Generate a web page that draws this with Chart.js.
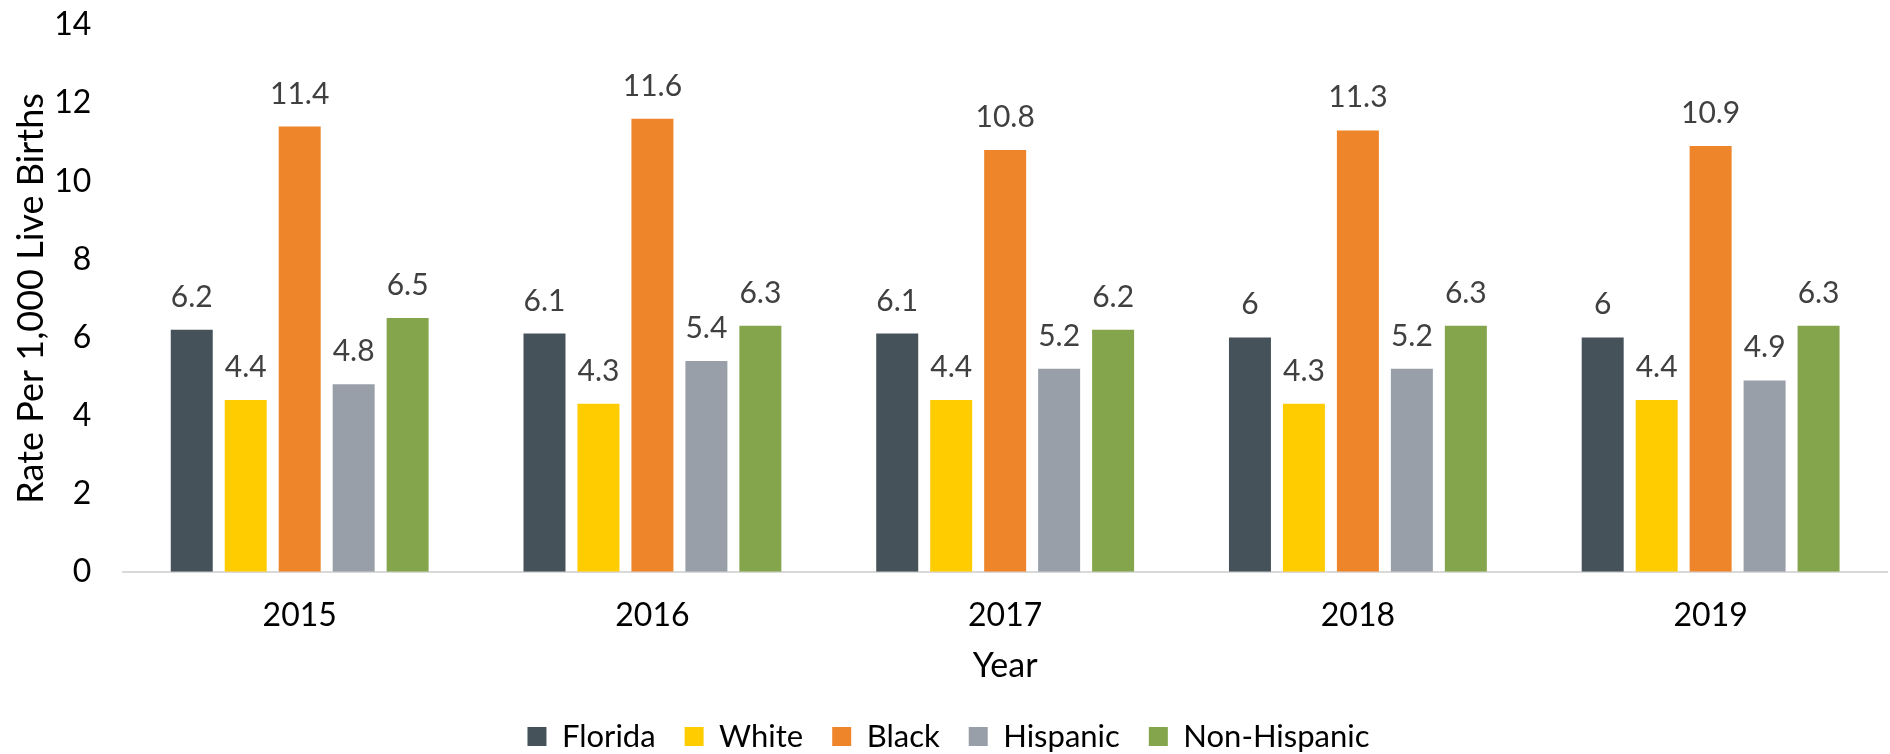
<!DOCTYPE html>
<html>
<head>
<meta charset="utf-8">
<script src="https://cdn.jsdelivr.net/npm/chart.js@4/dist/chart.umd.min.js"></script>
<style>
  html, body { margin: 0; padding: 0; background: #ffffff; }
  #wrap { width: 1890px; height: 754px; }
</style>
</head>
<body>
<div id="wrap"><canvas id="c" width="1890" height="754"></canvas></div>
<script>
// Infant mortality rate per 1,000 live births, by year and group
const years = ['2015', '2016', '2017', '2018', '2019'];
const florida = [6.2, 6.1, 6.1, 6, 6];
const white = [4.4, 4.3, 4.4, 4.3, 4.4];
const black = [11.4, 11.6, 10.8, 11.3, 10.9];
const hispanic = [4.8, 5.4, 5.2, 5.2, 4.9];
const nonHispanic = [6.5, 6.3, 6.2, 6.3, 6.3];
const seriesNames = ['Florida', 'White', 'Black', 'Hispanic', 'Non-Hispanic'];
const seriesColors = ['#465259', '#FFCC00', '#EE852A', '#989FA8', '#85A54D'];
const yTicks = [0, 2, 4, 6, 8, 10, 12, 14];

const FONT = 'Lato, "Open Sans", sans-serif';

// Writes each bar's value just above it
const valueLabels = {
  id: 'valueLabels',
  afterDatasetsDraw(chart) {
    const ctx = chart.ctx;
    ctx.save();
    ctx.font = '30px ' + FONT;
    ctx.fillStyle = '#404040';
    ctx.textAlign = 'center';
    ctx.textBaseline = 'alphabetic';
    chart.data.datasets.forEach((ds, i) => {
      const meta = chart.getDatasetMeta(i);
      meta.data.forEach((bar, j) => {
        ctx.fillText(String(ds.data[j]), bar.x, bar.y - 23);
      });
    });
    ctx.restore();
  }
};

const values = [florida, white, black, hispanic, nonHispanic];
const datasets = seriesNames.map((name, i) => ({
  label: name,
  data: values[i],
  backgroundColor: seriesColors[i],
  borderWidth: 0,
  categoryPercentage: 0.765,
  barPercentage: 0.778
}));

new Chart(document.getElementById('c'), {
  type: 'bar',
  data: { labels: years, datasets },
  plugins: [valueLabels],
  options: {
    responsive: false,
    animation: false,
    devicePixelRatio: 1,
    layout: { padding: { top: 25, right: 3, bottom: -8, left: 10 } },
    plugins: {
      tooltip: { enabled: false },
      legend: {
        position: 'bottom',
        labels: {
          font: { family: FONT, size: 31 },
          color: '#000000',
          boxWidth: 19,
          boxHeight: 19,
          padding: 29
        }
      }
    },
    scales: {
      x: {
        grid: { display: false, drawTicks: false },
        border: { display: true, color: '#D9D9D9', width: 2 },
        ticks: { font: { family: FONT, size: 32 }, color: '#000000', padding: 25 },
        title: {
          display: true, text: 'Year',
          font: { family: FONT, size: 34 }, color: '#000000',
          padding: { top: -15, bottom: 6 }
        }
      },
      y: {
        min: 0, max: 14,
        afterBuildTicks(axis) { axis.ticks = yTicks.map(v => ({ value: v })); },
        // the top tick label may sit above the plot edge
        afterFit(axis) { axis.paddingTop = 0; axis.paddingBottom = 0; },
        grid: { display: false, drawTicks: false },
        border: { display: false },
        ticks: { font: { family: FONT, size: 32 }, color: '#000000', padding: 32 },
        title: {
          display: true, text: 'Rate Per 1,000 Live Births',
          font: { family: FONT, size: 36 }, color: '#000000',
          padding: { top: 0, bottom: -31 }
        }
      }
    }
  }
});
</script>
</body>
</html>
